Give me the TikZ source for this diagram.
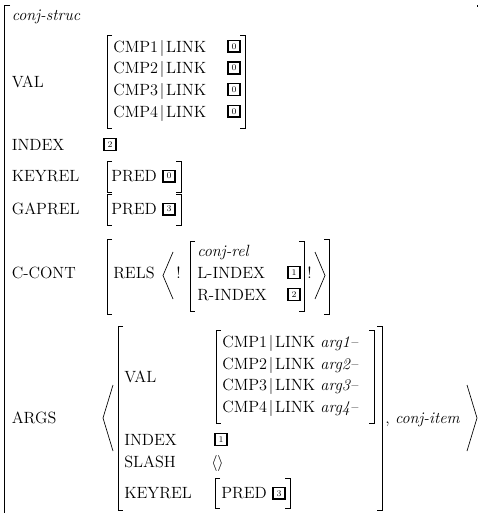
\documentclass[tikz,border=0pt]{standalone}
\usetikzlibrary{positioning}
\newcommand{\avmsize}{\fontsize{12.2}{14.6}\selectfont}
\tikzset{attr/.style={anchor=base west, inner sep=0pt, font=\avmsize},
        tval/.style={attr, font=\avmsize\itshape},
        tagbox/.style={draw, line width=1.1pt, inner sep=0.5pt, minimum size=8.8pt,
                       font=\fontsize{6.5}{7}\selectfont},
        brk/.style={line width=0.5pt},
        }
% square brackets and angle brackets: x, top, bottom
\newcommand{\avmopen}[3]{\draw[brk] (#1+5,#2) -| (#1,#3) -- ++(5,0);}
\newcommand{\avmclose}[3]{\draw[brk] (#1-5,#2) -| (#1,#3) -- ++(-5,0);}
\newcommand{\angopen}[3]{\draw[brk] (#1+10,#2) -- (#1,{(#2+#3)/2}) -- (#1+10,#3);}
\newcommand{\angclose}[3]{\draw[brk] (#1-10,#2) -- (#1,{(#2+#3)/2}) -- (#1-10,#3);}
\newcommand{\pathsep}{$\mskip2mu|\mskip2mu$}

\begin{document}
\begin{tikzpicture}[x=0.75pt, y=-0.75pt]
    \useasboundingbox (0,0) rectangle (479,513);

    % outer structure, cut at the bottom and on the right
    \draw[brk] (10,5) -- (4,5) -- (4,513);
    \fill (476.5,5.5) rectangle (478,7);
    \node[tval] (type) at (11.5,21) {conj-struc};

    % VAL
    \node[attr] (val) at (11.5,87.3) {VAL};
    \avmopen{107}{35}{128}
    \avmclose{245}{35}{128}
    \foreach \i/\y in {1/52.3, 2/74, 3/95.6, 4/117.3} {
        \node[attr] (cmp\i) at (113,\y) {CMP\i\pathsep LINK};
        \node[tagbox] (link\i) at (234,\y-6) {0};
    }

    % INDEX, KEYREL, GAPREL
    \node[attr] (index) at (11.5,150.6) {INDEX};
    \node[tagbox] (indextag) at (110,144.6) {2};
    \node[attr] (keyrel) at (11.5,181.5) {KEYREL};
    \avmopen{107}{161}{192}
    \node[attr] (kpred) at (111,181.5) {PRED};
    \node[tagbox, right=4pt of kpred] (ktag) {0};
    \avmclose{181}{161}{192}
    \node[attr] (gaprel) at (11.5,214.5) {GAPREL};
    \avmopen{107}{194}{225}
    \node[attr] (gpred) at (111,214.5) {PRED};
    \node[tagbox, right=4pt of gpred] (gtag) {3};
    \avmclose{181}{194}{225}

    % C-CONT
    \node[attr] (ccont) at (11.5,278.5) {C-CONT};
    \avmopen{107}{239}{314}
    \node[attr] (rels) at (113,278.5) {RELS};
    \angopen{163}{252}{299}
    \node[attr] (bang1) at (176,278.5) {!};
    \avmopen{190}{241}{311}
    \node[tval] (reltype) at (197,256.5) {conj-rel};
    \node[attr] (lindex) at (197,278.5) {L-INDEX};
    \node[tagbox] (ltag) at (294,272.5) {1};
    \node[attr] (rindex) at (197,300.5) {R-INDEX};
    \node[tagbox] (rtag) at (294,294.5) {2};
    \avmclose{304}{241}{311}
    \node[attr] (bang2) at (307,278.5) {!};
    \angclose{325}{252}{299}
    \avmclose{329}{239}{314}

    % ARGS
    \node[attr] (args) at (11.5,423.6) {ARGS};
    \angopen{103}{385}{451}
    \avmopen{118}{326}{510}
    \node[attr] (aval) at (124,382) {VAL};
    \avmopen{216}{330}{423}
    \foreach \i/\y in {1/347.3, 2/369, 3/390.6, 4/412.3} {
        \node[attr] (acmp\i) at (222,\y) {CMP\i\pathsep LINK \textit{arg\i--}};
    }
    \avmclose{374}{330}{423}
    \node[attr] (aindex) at (124,445.6) {INDEX};
    \node[tagbox] (aindextag) at (221,439.6) {1};
    \node[attr] (aslash) at (124,467.6) {SLASH};
    \node[attr] (slashval) at (211,467.6) {$\langle\rangle$};
    \node[attr] (akeyrel) at (124,498.6) {KEYREL};
    \avmopen{215}{478}{508}
    \node[attr] (apred) at (221,498.6) {PRED};
    \node[tagbox, right=4pt of apred] (atag) {3};
    \avmclose{290}{478}{508}
    \avmclose{382}{326}{510}
    \node[attr] (item) at (385,423.6) {, \textit{conj-item}};
    \angclose{477}{385}{451}
\end{tikzpicture}
\end{document}
